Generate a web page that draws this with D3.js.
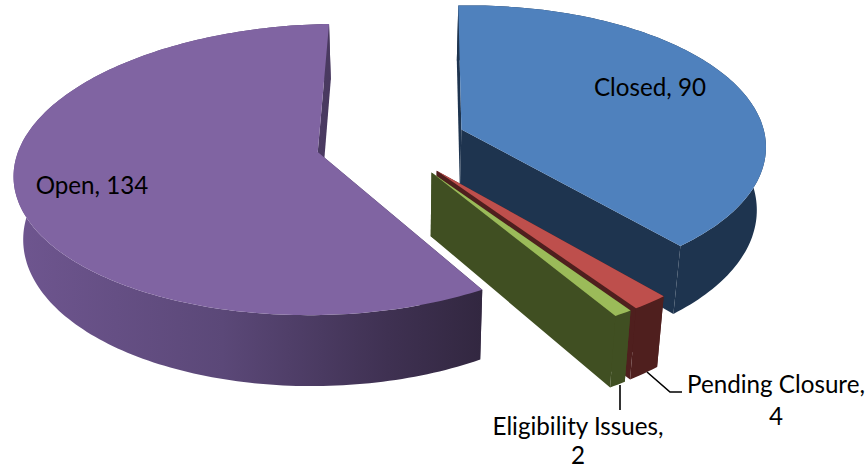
<!DOCTYPE html>
<html><head><meta charset="utf-8">
<script src="https://cdnjs.cloudflare.com/ajax/libs/d3/7.8.5/d3.min.js"></script>
<style>html,body{margin:0;padding:0;background:#fff}svg{display:block}text{font-family:Lato,"Noto Sans",sans-serif;font-size:24.2px;fill:#000}</style>
</head><body><svg id="c" width="868" height="469"></svg>
<script>
const categories = ["Closed", "Pending Closure", "Eligibility Issues", "Open"];
const values = [90, 4, 2, 134];
const topColors = ["#4F81BD", "#BE4F4C", "#9BBB59", "#8064A2"];
const wallColors = ["#1E344F", "#4F1F1E", "#404F22", "url(#openWall)"];

const svg = d3.select("#c");
// 3D view of the pie plane
const view = {cx: 391, cy: 142, R: 301, Rt: 141, k: 0.12, shearX: 16, bendX: 4.5, shearY: 11, explode: 0.25, depth: 62, conv: 0.025, conv0: 400};
const first = 3.0 * Math.PI / 180;
const arcs = d3.pie().sort(null).value(d => d).startAngle(first).endAngle(first + 2 * Math.PI)(values);

function project(u, v) {
  const s = 1 / (1 - view.k * v);
  return [view.cx + (view.R * u + view.shearX * v + view.bendX * v * v) * s, view.cy + (view.Rt * v - view.shearY * u) * s, s];
}
function pt(a, r, off) { return project(off[0] + r * Math.sin(a), off[1] - r * Math.cos(a)); }
function low(p) { return [p[0] - (p[0] - view.conv0) * view.conv, p[1] + view.depth * p[2]]; }
const line = d3.line();

const defs = svg.append("defs");
const g = defs.append("linearGradient").attr("id", "openWall").attr("gradientUnits", "userSpaceOnUse")
  .attr("x1", 10).attr("x2", 482).attr("y1", 0).attr("y2", 0);
[[0, "#6F5690"], [0.45, "#5B4878"], [0.8, "#3F3152"], [1, "#322740"]].forEach(d => g.append("stop").attr("offset", d[0]).attr("stop-color", d[1]));

const order = [0, 3, 1, 2];
order.forEach(i => {
  const d = arcs[i];
  const mid = (d.startAngle + d.endAngle) / 2;
  const off = [view.explode * Math.sin(mid), -view.explode * Math.cos(mid)];
  const n = Math.max(4, Math.ceil((d.endAngle - d.startAngle) * 50));
  const rim = d3.range(n + 1).map(t => pt(d.startAngle + (d.endAngle - d.startAngle) * t / n, 1, off));
  const apex = pt(0, 0, off);
  const wall = svg.append("g").attr("fill", wallColors[i]).attr("stroke", "none");
  // radial end walls
  wall.append("path").attr("d", line([apex, rim[0], low(rim[0]), low(apex)]) + "Z");
  wall.append("path").attr("d", line([apex, rim[n], low(rim[n]), low(apex)]) + "Z");
  // outer wall
  wall.append("path").attr("d", line(rim.map(p => p.slice(0, 2)).concat(rim.slice().reverse().map(low))) + "Z");
  // top face
  svg.append("path").attr("fill", topColors[i]).attr("d", line([apex].concat(rim)) + "Z");
});

function label(x, y, t) { svg.append("text").attr("x", x).attr("y", y).attr("text-anchor", "middle").text(t); }
label(650, 96, `${categories[0]}, ${values[0]}`);
label(92, 194, `${categories[3]}, ${values[3]}`);
label(776, 393, `${categories[1]},`);
label(776, 425, `${values[1]}`);
label(578, 435, `${categories[2]},`);
label(578, 464, `${values[2]}`);
svg.append("path").attr("fill", "none").attr("stroke", "#000").attr("stroke-width", 1.6).attr("d", "M647,372L670,392L682,392");
svg.append("path").attr("fill", "none").attr("stroke", "#000").attr("stroke-width", 1.6).attr("d", "M620,385L620,410");
</script></body></html>
